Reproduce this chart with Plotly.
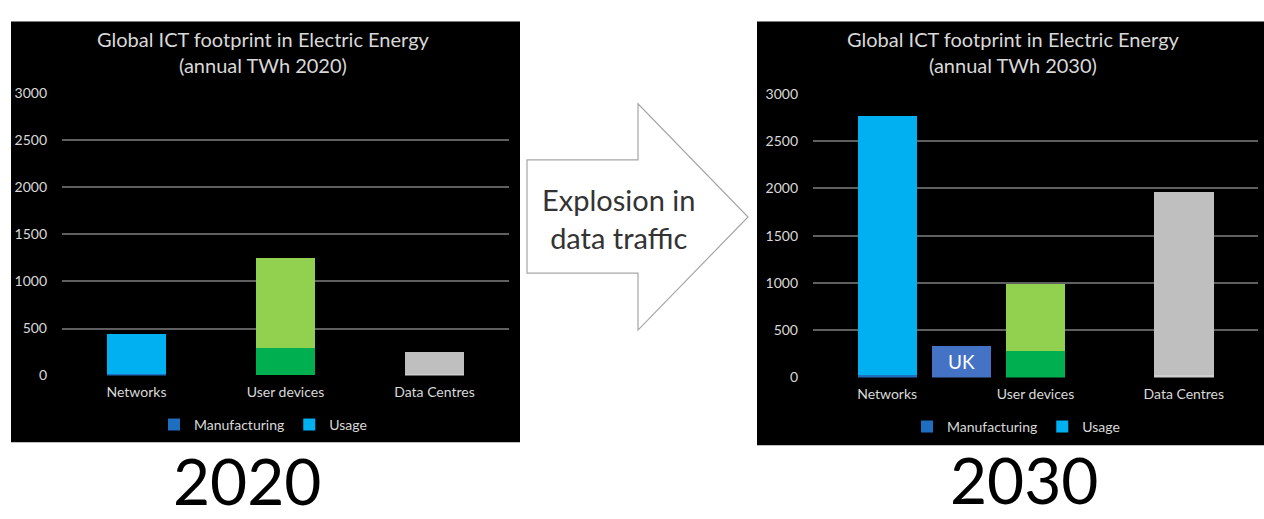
import plotly.graph_objects as go

W, H = 1264, 519

categories = ["Networks", "User devices", "Data Centres"]
cat_pos = [0, 1, 2]
mfg_2020 = [20, 290, 20]
use_2020 = [415, 960, 225]
mfg_2030 = [25, 285, 25]
use_2030 = [2745, 705, 1940]
uk_pos = [0.5]
uk_2030 = [330]
y_ticks = [0, 500, 1000, 1500, 2000, 2500, 3000]

mfg_colors = ["#1F6FC0", "#00B050", "#CFCFCF"]
use_colors = ["#00B0F0", "#92D050", "#BFBFBF"]

FONT = "Lato"
LIGHT = "#d9d9d9"
GRID = "#5f5f5f"


def px(x):
    return x / W


def py(y):
    return 1 - y / H


fig = go.Figure()

for (mfg, use, xa, ya, lg) in [
    (mfg_2020, use_2020, "x", "y", "legend"),
    (mfg_2030, use_2030, "x2", "y2", "legend2"),
]:
    fig.add_trace(go.Bar(x=cat_pos, y=mfg, name="Manufacturing", width=0.4,
                         marker=dict(color=mfg_colors, line=dict(width=0)),
                         xaxis=xa, yaxis=ya, legend=lg))
    fig.add_trace(go.Bar(x=cat_pos, y=use, name="Usage", width=0.4,
                         marker=dict(color=use_colors, line=dict(width=0)),
                         xaxis=xa, yaxis=ya, legend=lg))

fig.add_trace(go.Bar(x=uk_pos, y=uk_2030, width=0.4, text=["UK"], textposition="inside",
                     insidetextanchor="middle", textangle=0,
                     textfont=dict(color="white", size=19, family=FONT),
                     marker=dict(color="#4472C4", line=dict(width=0)),
                     showlegend=False, xaxis="x2", yaxis="y2", hoverinfo="skip"))

xcommon = dict(tickmode="array", tickvals=cat_pos, ticktext=categories, range=[-0.5, 2.5],
               showgrid=False, zeroline=False, showline=False, ticks="",
               tickfont=dict(color=LIGHT, size=14, family=FONT), ticklabelstandoff=6)
ycommon = dict(range=[0, 3000], tickmode="array", tickvals=y_ticks, showgrid=True,
               gridcolor=GRID, gridwidth=1.5, zeroline=False, showline=False, ticks="",
               tickfont=dict(color=LIGHT, size=14, family=FONT), ticklabelstandoff=14)

legend_common = dict(orientation="h", xanchor="center", yanchor="middle", traceorder="normal",
                     font=dict(color=LIGHT, size=14, family=FONT), bgcolor="rgba(0,0,0,0)",
                     itemwidth=30, tracegroupgap=0)

fig.update_layout(
    width=W, height=H,
    margin=dict(l=0, r=0, t=0, b=0),
    paper_bgcolor="white", plot_bgcolor="rgba(0,0,0,0)",
    barmode="stack", bargap=0,
    font=dict(family=FONT),
    xaxis=dict(domain=[px(62), px(509)], anchor="y", **xcommon),
    yaxis=dict(domain=[py(379), py(87)], anchor="x", **ycommon),
    xaxis2=dict(domain=[px(813), px(1258)], anchor="y2", **xcommon),
    yaxis2=dict(domain=[py(381), py(87.7)], anchor="x2", **ycommon),
    legend=dict(x=px(263), y=py(430), **legend_common),
    legend2=dict(x=px(1016), y=py(432), **legend_common),
)

shapes = [
    dict(type="rect", xref="paper", yref="paper", x0=px(11), x1=px(520), y0=py(448), y1=py(13),
         fillcolor="black", line=dict(width=0), layer="below"),
    dict(type="rect", xref="paper", yref="paper", x0=px(757), x1=px(1264), y0=py(451), y1=py(13),
         fillcolor="black", line=dict(width=0), layer="below"),
]
arrow_pts = [(527, 156), (638, 156), (638, 98), (748, 215), (638, 332), (638, 273), (527, 273)]
path = "M " + " L ".join(f"{px(a):.5f},{py(b):.5f}" for a, b in arrow_pts) + " Z"
shapes.append(dict(type="path", xref="paper", yref="paper", path=path, fillcolor="white",
                   line=dict(color="#a6a6a6", width=1.2)))
fig.update_layout(shapes=shapes)

annotations = [
    dict(text="Global ICT footprint in Electric Energy<br>(annual TWh 2020)", x=px(263), y=py(44),
         font=dict(color=LIGHT, size=20, family=FONT)),
    dict(text="Global ICT footprint in Electric Energy<br>(annual TWh 2030)", x=px(1013), y=py(44),
         font=dict(color=LIGHT, size=20, family=FONT)),
    dict(text="Explosion in<br>data traffic", x=px(618), y=py(217),
         font=dict(color="#333333", size=29, family=FONT)),
    dict(text="2020", x=px(247), y=py(487), font=dict(color="black", size=64, family=FONT)),
    dict(text="2030", x=px(1024), y=py(486), font=dict(color="black", size=64, family=FONT)),
]
for a in annotations:
    a.update(xref="paper", yref="paper", showarrow=False, xanchor="center", yanchor="middle")
fig.update_layout(annotations=annotations)

fig.write_html("out.html")
